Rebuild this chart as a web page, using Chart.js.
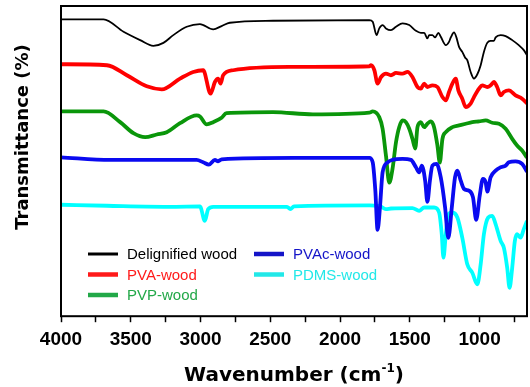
<!DOCTYPE html>
<html>
<head>
<meta charset="utf-8">
<script src="https://cdn.jsdelivr.net/npm/chart.js@4.4.1/dist/chart.umd.min.js"></script>
<style>
html, body { margin: 0; padding: 0; background: #fff; }
</style>
</head>
<body>
<canvas id="grafico" width="530" height="387"></canvas>
<script>
// [wavenumber cm-1, transmittance (offset, a.u.)]
var nombres = ['Delignified wood', 'PVA-wood', 'PVP-wood', 'PVAc-wood', 'PDMS-wood'];

var delignifiedWood = [[4000,295.7],[3695,295.7],[3552,283.3],[3433,275],[3338,269.3],[3266,272.3],[3195,280],[3099,288.3],[3004,291],[2909,285.7],[2849,289],[2790,292.3],[2481,294.3],[1790,295],[1766,293.3],[1738,280],[1719,286.7],[1695,290],[1671,286.7],[1635,285],[1599,288.3],[1552,291.7],[1504,290],[1456,284.3],[1421,282.3],[1397,282.3],[1374,276.7],[1361,280],[1338,280],[1319,277.7],[1295,282.3],[1278,278.3],[1242,270],[1219,273.3],[1206,277.7],[1183,282.7],[1166,277.7],[1147,268.3],[1124,263.3],[1104,257.7],[1088,255],[1064,243.3],[1040,236.7],[1016,241],[992,250],[969,263.3],[945,272.3],[921,274.3],[897,274.3],[885,277.7],[849,280],[813,279],[766,275],[719,270],[683,265],[660,260]];

var pvaWood = [[4000,251],[3671,250],[3528,240],[3385,229],[3278,226],[3147,236.7],[3052,243.3],[2981,245],[2928,221.7],[2897,233.3],[2874,236.7],[2856,231.7],[2838,240],[2766,245],[2361,248.3],[1790,249],[1778,250],[1754,245],[1731,231.7],[1706,238.3],[1671,241.7],[1635,240],[1599,242.3],[1552,241.7],[1516,243.3],[1481,238.3],[1445,228.3],[1421,226.7],[1397,231.7],[1374,228.3],[1338,230],[1302,228.3],[1266,218.3],[1242,215],[1219,223.3],[1195,231.7],[1171,236.7],[1152,225],[1124,216.7],[1099,208.3],[1064,211.7],[1040,218.3],[1004,226.7],[981,230],[945,228.3],[921,230],[897,233.3],[874,228.3],[849,220],[826,223.3],[790,225],[742,220],[695,216.7],[660,212]];

var pvpWood = [[4000,204],[3695,204],[3576,193.3],[3481,182.3],[3397,178.3],[3314,181],[3242,183.3],[3147,192.3],[3028,200],[3004,199],[2956,191],[2909,193.3],[2849,197.7],[2814,202.3],[2481,203.3],[2195,201],[1790,202.7],[1766,204],[1719,198.3],[1695,186.7],[1671,160],[1647,133],[1624,146.7],[1599,173.3],[1576,188.3],[1552,195],[1528,193.3],[1504,186.7],[1481,176.7],[1461,167],[1445,188.3],[1421,193.3],[1397,188.3],[1374,191.7],[1349,194],[1326,188.3],[1302,170],[1285,153],[1266,176.7],[1242,183.3],[1195,188.3],[1147,190],[1099,191.7],[1052,193.3],[1004,194],[956,195],[909,192.7],[861,191.7],[813,186.7],[766,176.7],[731,170],[695,165],[660,158]];

var pvacWood = [[4000,158.3],[3647,155.7],[3028,155.7],[2981,153.3],[2940,151],[2897,155.7],[2874,154.3],[2849,156.3],[2326,157.7],[1790,157.7],[1766,153.3],[1747,125],[1731,86],[1714,108.3],[1695,143.3],[1659,153.3],[1624,155.7],[1552,156.7],[1492,155.7],[1456,148.3],[1433,143.3],[1414,150],[1390,135],[1374,114],[1356,135],[1338,150],[1309,151.7],[1278,138.3],[1247,108.3],[1224,78],[1199,108.3],[1176,138.3],[1159,145],[1135,135],[1111,126.7],[1076,125],[1047,118.3],[1024,96],[999,120],[976,136.7],[956,133.3],[945,124],[921,138.3],[885,145],[849,148.3],[813,150],[790,153.3],[742,154.3],[695,151.7],[660,144]];

var pdmsWood = [[4000,111],[3671,110],[3195,109],[3004,109.3],[2969,95],[2945,106.7],[2909,109],[2380,109],[2356,106.7],[2330,109.5],[1790,110.3],[1719,110],[1671,106.7],[1635,107.3],[1481,107.7],[1433,105],[1397,108.3],[1326,108.3],[1290,103.3],[1271,81.7],[1259,58.3],[1242,81.7],[1224,101.7],[1195,103.3],[1159,98.3],[1124,78.3],[1088,51.7],[1052,43.3],[1016,31.7],[992,51.7],[969,81.7],[938,98.3],[909,100],[885,91.7],[849,75],[826,68.3],[802,48.3],[785,28.3],[766,48.3],[747,75],[731,81.7],[706,78.3],[683,86.7],[660,95]];

var majorTicks = [4000, 3500, 3000, 2500, 2000, 1500, 1000];
var minorTicks = [3750, 3250, 2750, 2250, 1750, 1250, 750];

var contexto = document.getElementById('grafico').getContext('2d');

var series = [delignifiedWood, pvaWood, pvpWood, pvacWood, pdmsWood];
var colores = ['#000000', '#ff0000', '#0a960a', '#0a0af0', '#00ffff'];
var coloresLeyenda = ['#000000', '#ff1a1a', '#22a848', '#1414c8', '#22e8e8'];
var grosores = [1.8, 3.8, 3.8, 3.8, 3.8];
var orden = [0, 1, 3, 2, 4]; // blue drawn over green and cyan
var posLeyenda = [[88, 254], [88, 274.5], [88, 295], [254, 254], [254, 274.5]];

var data = {
	datasets: series.map(function (s, i) {
		return {
			label: nombres[i],
			data: s.map(function (p) { return { x: p[0], y: p[1] }; }),
			borderColor: colores[i],
			backgroundColor: colores[i],
			borderWidth: grosores[i],
			pointRadius: 0,
			cubicInterpolationMode: 'monotone',
			order: orden[i],
			fill: false
		};
	})
};

// frame around the plot area
var marco = {
	id: 'marco',
	afterDatasetsDraw: function (chart) {
		var a = chart.chartArea, ctx = chart.ctx;
		ctx.save();
		ctx.strokeStyle = '#000';
		ctx.lineWidth = 2;
		ctx.strokeRect(a.left, a.top, a.right - a.left, a.bottom - a.top);
		ctx.restore();
	}
};

// two-column legend inside the plot + axis titles
var textos = {
	id: 'textos',
	afterDraw: function (chart) {
		var ctx = chart.ctx, a = chart.chartArea;
		ctx.save();
		ctx.textAlign = 'left';
		ctx.textBaseline = 'middle';
		ctx.font = '15px "Liberation Sans", Arial, sans-serif';
		posLeyenda.forEach(function (p, i) {
			ctx.strokeStyle = coloresLeyenda[i];
			ctx.lineWidth = i === 0 ? 3 : 4.5;
			ctx.beginPath();
			ctx.moveTo(p[0], p[1]);
			ctx.lineTo(p[0] + 30, p[1]);
			ctx.stroke();
			ctx.fillStyle = coloresLeyenda[i];
			ctx.fillText(nombres[i], p[0] + 39, p[1] + 1);
		});

		ctx.fillStyle = '#000';
		ctx.textBaseline = 'alphabetic';
		var f1 = 'bold 20px "DejaVu Sans", sans-serif', f2 = 'bold 12px "DejaVu Sans", sans-serif';
		var t1 = 'Wavenumber (cm', sup = '-1', t2 = ')';
		ctx.font = f1;
		var w1 = ctx.measureText(t1).width, w3 = ctx.measureText(t2).width;
		ctx.font = f2;
		var w2 = ctx.measureText(sup).width;
		var x0 = (a.left + a.right) / 2 - (w1 + w2 + w3) / 2, by = 381;
		ctx.font = f1; ctx.fillText(t1, x0, by);
		ctx.font = f2; ctx.fillText(sup, x0 + w1, by - 9);
		ctx.font = f1; ctx.fillText(t2, x0 + w1 + w2, by);

		ctx.translate(23, 137);
		ctx.rotate(-Math.PI / 2);
		ctx.textAlign = 'center';
		ctx.textBaseline = 'middle';
		ctx.font = 'bold 18px "DejaVu Sans", sans-serif';
		ctx.fillText('Transmittance (%)', 0, 0);
		ctx.restore();
	}
};

var grafico = new Chart(contexto, {
	type: 'line',
	data: data,
	plugins: [marco, textos],
	options: {
		responsive: false,
		devicePixelRatio: 1,
		animation: false,
		layout: { padding: { left: 61, right: 3, top: 6, bottom: 30 } },
		plugins: { legend: { display: false }, tooltip: { enabled: false } },
		scales: {
			x: {
				type: 'linear',
				reverse: true,
				min: 660,
				max: 4000,
				afterBuildTicks: function (s) {
					s.ticks = majorTicks.concat(minorTicks).sort(function (a, b) { return b - a; }).map(function (v) { return { value: v }; });
				},
				ticks: {
					autoSkip: false,
					maxRotation: 0,
					padding: 6,
					color: '#000',
					font: { family: '"Liberation Sans", Arial, sans-serif', size: 19, weight: 'bold' },
					callback: function (v) { return majorTicks.indexOf(v) >= 0 ? String(v) : ''; }
				},
				grid: { drawOnChartArea: false, drawTicks: true, tickLength: 6, tickColor: '#000', tickWidth: 1.5 },
				border: { display: false }
			},
			y: { display: false, min: 0, max: 309 }
		}
	}
});
</script>
</body>
</html>
